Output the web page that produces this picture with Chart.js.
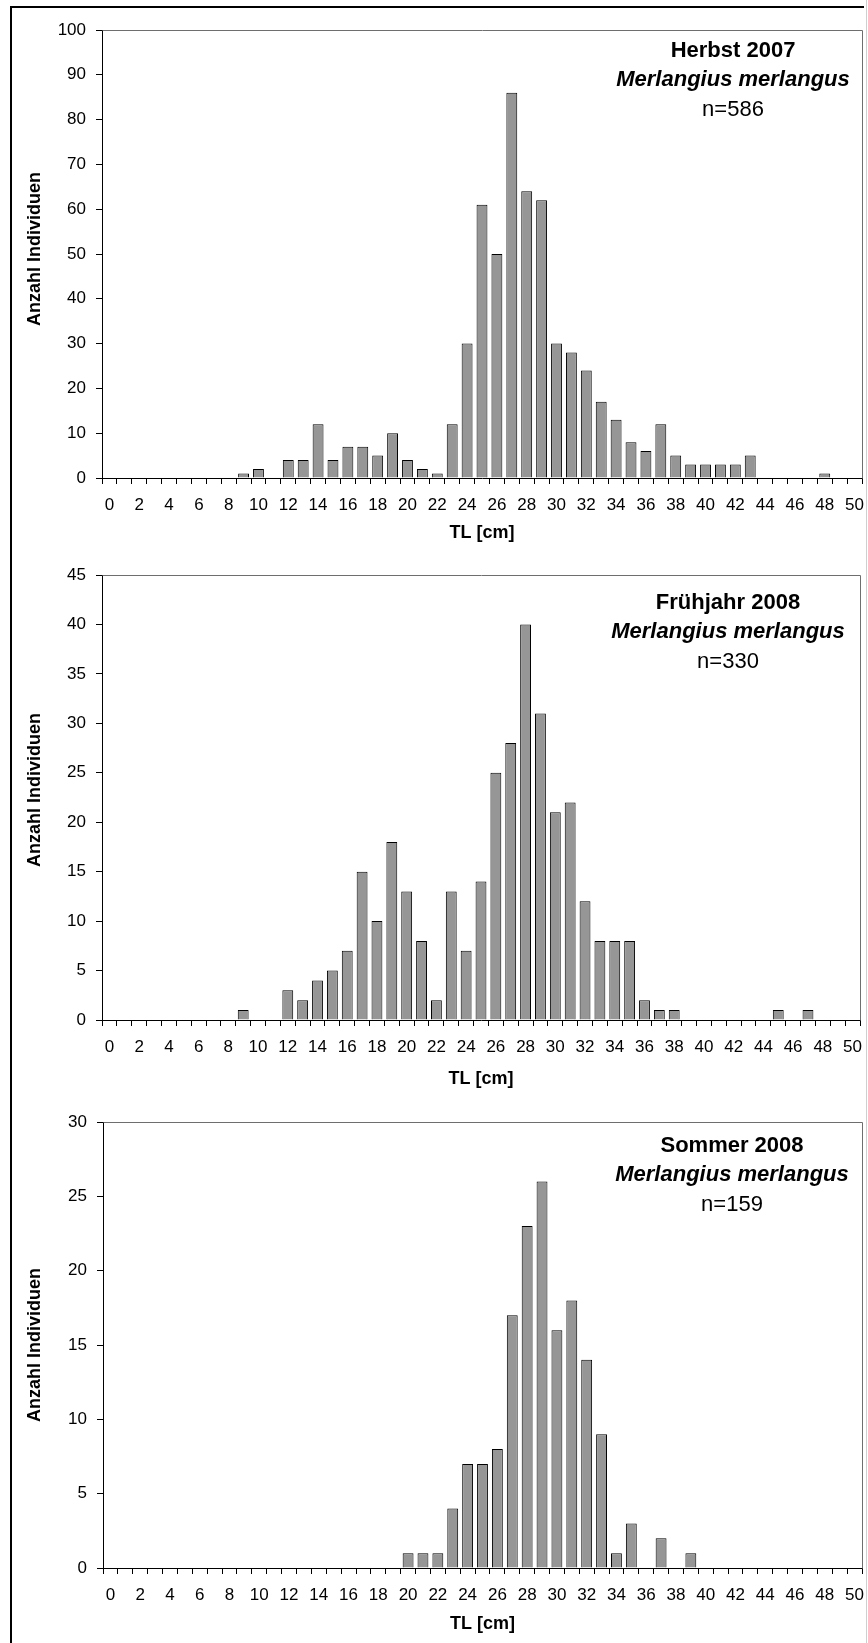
<!DOCTYPE html>
<html>
<head>
<meta charset="utf-8">
<script src="https://cdn.jsdelivr.net/npm/chart.js@4.4.1/dist/chart.umd.min.js"></script>
<style>
html,body{margin:0;padding:0;background:#fff;}
#page{position:relative;width:868px;height:1643px;overflow:hidden;background:#fff;}
#frame{position:absolute;left:10px;top:6px;width:852px;height:1700px;border-left:2px solid #000;border-top:2px solid #000;}
#edge{position:absolute;left:866px;top:0;width:1px;height:1643px;background:#cfcfcf;}
canvas{position:absolute;left:0;}
</style>
</head>
<body>
<div id="page">
<div id="frame"></div>
<div id="edge"></div>
<canvas id="c1" width="868" height="545" style="top:0px"></canvas>
<canvas id="c2" width="868" height="545" style="top:545px"></canvas>
<canvas id="c3" width="868" height="553" style="top:1090px"></canvas>
</div>
<script>
// ---------- data ----------
const lengthClasses = ['0','1','2','3','4','5','6','7','8','9','10','11','12','13','14','15','16','17','18','19','20','21','22','23','24','25','26','27','28','29','30','31','32','33','34','35','36','37','38','39','40','41','42','43','44','45','46','47','48','49','50'];

const herbst2007 =    [0,0,0,0,0,0,0,0,0,1, 2,0,4,4,12,4,7,7,5,10, 4,2,1,12,30,61,50,86,64,62, 30,28,24,17,13,8,6,12,5,3, 3,3,3,5,0,0,0,0,1,0, 0];
const fruehjahr2008 = [0,0,0,0,0,0,0,0,0,1, 0,0,3,2,4,5,7,15,10,18, 13,8,2,13,7,14,25,28,40,31, 21,22,12,8,8,8,2,1,1,0, 0,0,0,0,0,1,0,1,0,0, 0];
const sommer2008 =    [0,0,0,0,0,0,0,0,0,0, 0,0,0,0,0,0,0,0,0,0, 1,1,1,4,7,7,8,17,23,26, 16,18,14,9,1,3,0,2,0,1, 0,0,0,0,0,0,0,0,0,0, 0];

const panelTitles = ['Herbst 2007', 'Frühjahr 2008', 'Sommer 2008'];
const speciesName = 'Merlangius merlangus';
const sampleSizes = ['n=586', 'n=330', 'n=159'];
const yMaxima = [100, 45, 30];
const ySteps = [10, 5, 5];
const yAxisTitle = 'Anzahl Individuen';
const xAxisTitle = 'TL [cm]';

// ---------- styling / layout ----------
const FONT = '"Liberation Sans", Arial, Helvetica, sans-serif';
const layoutCfg = [
  {id:'c1', top:30, right:6, axisW:102, axisH:67, xTitlePad:1, dx:129, dy:27, gap:29.3, yTitleLead:'  '},
  {id:'c2', top:30, right:8, axisW:102, axisH:70, xTitlePad:0, dx:132, dy:34, gap:29.3, yTitleLead:'   '},
  {id:'c3', top:32, right:6, axisW:103, axisH:75, xTitlePad:8, dx:130, dy:30, gap:29.3, yTitleLead:''}
];

const plotFramePlugin = {
  id: 'plotFrame',
  afterDraw(chart) {
    const {ctx, chartArea: a} = chart;
    ctx.save();
    ctx.strokeStyle = '#6e6e6e';
    ctx.lineWidth = 1;
    ctx.beginPath();
    ctx.moveTo(Math.round(a.left) + 0.5, Math.round(a.top) + 0.5);
    ctx.lineTo(Math.round(a.right) + 0.5, Math.round(a.top) + 0.5);
    ctx.lineTo(Math.round(a.right) + 0.5, Math.round(a.bottom) + 0.5);
    ctx.stroke();
    ctx.restore();
  }
};

const panelTextPlugin = {
  id: 'panelText',
  afterDraw(chart, args, opts) {
    const {ctx, chartArea: a} = chart;
    const cx = a.right - opts.dx;
    ctx.save();
    ctx.fillStyle = '#000';
    ctx.textAlign = 'center';
    ctx.textBaseline = 'alphabetic';
    opts.lines.forEach((ln, i) => {
      ctx.font = ln.font;
      ctx.fillText(ln.text, cx, a.top + opts.dy + i * opts.gap);
    });
    ctx.restore();
  }
};

const seriesList = [herbst2007, fruehjahr2008, sommer2008];

seriesList.forEach((series, p) => {
  const L = layoutCfg[p];
  new Chart(document.getElementById(L.id), {
    type: 'bar',
    data: {
      labels: lengthClasses,
      datasets: [{
        data: series,
        backgroundColor: '#969696',
        borderColor: '#000000',
        borderWidth: 1,
        borderSkipped: 'bottom',
        barPercentage: 0.73,
        categoryPercentage: 1.0
      }]
    },
    options: {
      responsive: false,
      devicePixelRatio: 1,
      animation: false,
      events: [],
      layout: {padding: {top: L.top, right: L.right, left: 0, bottom: 0}},
      plugins: {
        legend: {display: false},
        tooltip: {enabled: false},
        title: {display: false},
        panelText: {
          dx: L.dx, dy: L.dy, gap: L.gap,
          lines: [
            {text: panelTitles[p], font: 'bold 22px ' + FONT},
            {text: speciesName, font: 'italic bold 22px ' + FONT},
            {text: sampleSizes[p], font: '22px ' + FONT}
          ]
        }
      },
      scales: {
        x: {
          type: 'category',
          offset: true,
          grid: {display: true, drawOnChartArea: false, drawTicks: true, tickLength: 6, color: '#000', offset: true},
          border: {display: true, color: '#000', width: 1},
          ticks: {
            autoSkip: false, maxRotation: 0, minRotation: 0, padding: 11,
            color: '#000', font: {family: FONT, size: 17},
            callback: function(value, index) { const l = this.getLabelForValue(value); return (Number(l) % 2 === 0) ? l : ''; }
          },
          title: {display: true, text: xAxisTitle, color: '#000', font: {family: FONT, size: 18, weight: 'bold'}, padding: {top: 0, bottom: L.xTitlePad}},
          afterFit(scale) { scale.height = L.axisH; scale.paddingLeft = 0; scale.paddingRight = 0; }
        },
        y: {
          min: 0, max: yMaxima[p],
          grid: {display: true, drawOnChartArea: false, drawTicks: true, tickLength: 6, color: '#000'},
          border: {display: true, color: '#000', width: 1},
          ticks: {stepSize: ySteps[p], padding: 10, color: '#000', font: {family: FONT, size: 17}},
          title: {display: true, text: L.yTitleLead + yAxisTitle, color: '#000', font: {family: FONT, size: 18, weight: 'bold'}, padding: {top: 24, bottom: 0}},
          afterFit(scale) { scale.width = L.axisW; scale.paddingTop = 0; scale.paddingBottom = 0; }
        }
      }
    },
    plugins: [plotFramePlugin, panelTextPlugin]
  });
});
</script>
</body>
</html>
